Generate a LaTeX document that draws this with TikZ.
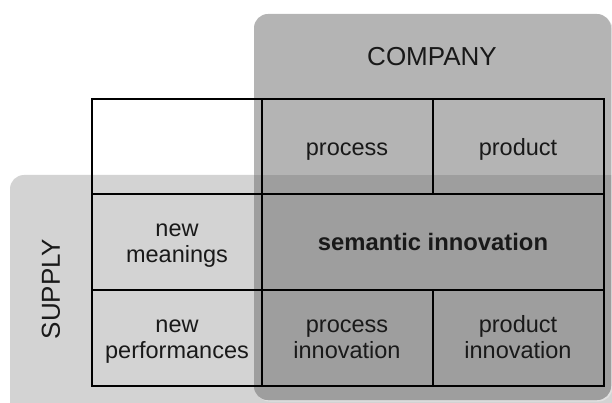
\documentclass[tikz,border=0pt]{standalone}
\usepackage{fontspec}
\setmainfont{Liberation Sans}
\usetikzlibrary{positioning}
\definecolor{supplygray}{HTML}{D3D3D3}
\definecolor{companygray}{HTML}{B4B4B4}
\definecolor{bothgray}{HTML}{9E9E9E}

\begin{document}
\begin{tikzpicture}[x=1pt,y=-1pt,
  cell/.style={align=center,font=\fontsize{23.5}{26.5}\selectfont,text=black!90,inner sep=0pt},
  head/.style={font=\fontsize{26}{30}\selectfont,text=black!90,inner sep=0pt}]
\useasboundingbox (0,0) rectangle (612,403);

% supply band and company column
\fill[supplygray,rounded corners=14pt] (10,175) rectangle (650,440);
\fill[black!12,rounded corners=14pt] (255.5,15.5) rectangle (612.5,401.5);
\fill[companygray,rounded corners=14pt] (254,14) rectangle (611,400);
\begin{scope}
\clip[rounded corners=14pt] (254,14) rectangle (611,400);
\fill[bothgray] (10,175) rectangle (650,440);
\end{scope}

% grid
\draw[line width=1.2pt] (92,99) rectangle (604,386);
\draw[line width=1.2pt] (92,194)--(604,194); \draw[line width=1.2pt] (92,290)--(604,290);
\draw[line width=1.2pt] (262,99)--(262,386);
\draw[line width=1.2pt] (433,99)--(433,194); \draw[line width=1.2pt] (433,290)--(433,386);

% headings
\node[head] (company) at (432,57) {COMPANY};
\node[head,rotate=90] (supply) at (51,289) {SUPPLY};

% cells
\node[cell] (process) at (347,150) {\strut process};
\node[cell] (product) at (518,150) {\strut product};
\node[cell] (meanings) at (177,244) {\strut new\\\strut meanings};
\node[cell,font=\bfseries\fontsize{23.8}{26.5}\selectfont] (semantic) at (433,245) {\strut semantic innovation};
\node[cell] (performances) at (177,340) {\strut new\\\strut performances};
\node[cell] (procinno) at (347,340) {\strut process\\\strut innovation};
\node[cell] (prodinno) at (518,340) {\strut product\\\strut innovation};

\end{tikzpicture}
\end{document}
